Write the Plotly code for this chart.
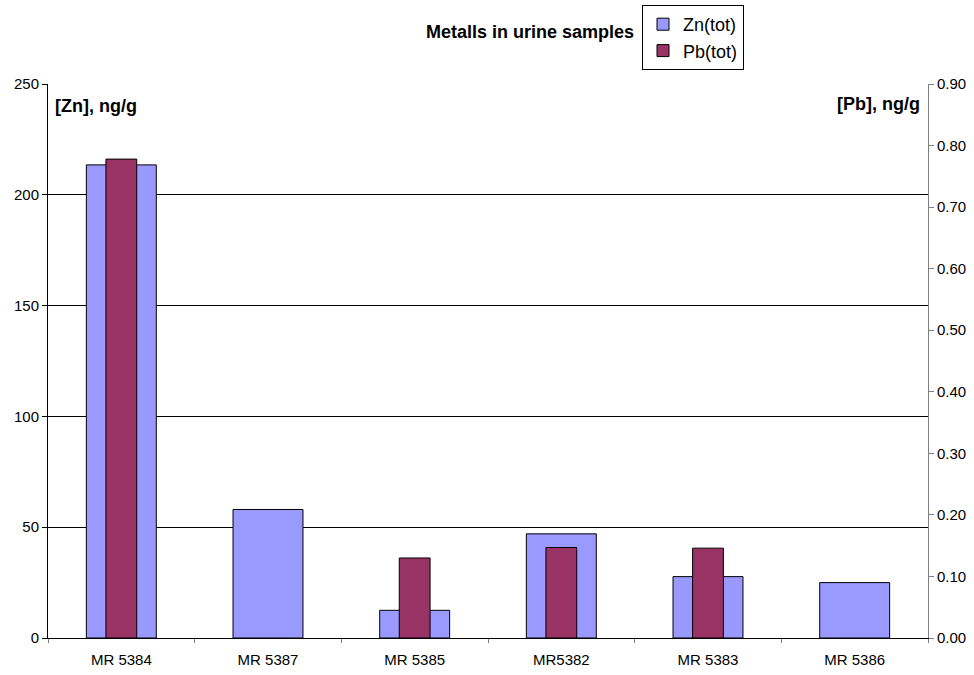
import plotly.graph_objects as go

categories = ["MR 5384", "MR 5387", "MR 5385", "MR5382", "MR 5383", "MR 5386"]
zn_values = [213.5, 58.0, 12.5, 47.0, 27.7, 25.0]
pb_values = [0.778, None, 0.13, 0.147, 0.146, None]
zn_ticks = [0, 50, 100, 150, 200, 250]
pb_ticks = [0.0, 0.1, 0.2, 0.3, 0.4, 0.5, 0.6, 0.7, 0.8, 0.9]

ZN_COLOR = "#9999FF"
PB_COLOR = "#993366"
FONT = "Liberation Sans, Arial, sans-serif"

fig = go.Figure()
fig.add_trace(go.Bar(
    x=categories, y=zn_values, name="Zn(tot)", width=0.477,
    marker=dict(color=ZN_COLOR, line=dict(color="black", width=1)),
    yaxis="y", legendgroup="zn",
))
fig.add_trace(go.Bar(
    x=categories, y=pb_values, name="Pb(tot)", width=0.21,
    marker=dict(color=PB_COLOR, line=dict(color="black", width=1)),
    yaxis="y2", legendgroup="pb",
))

fig.update_layout(
    width=974, height=675,
    margin=dict(l=48, r=46, t=84, b=37, autoexpand=False),
    paper_bgcolor="white", plot_bgcolor="white",
    barmode="overlay",
    font=dict(family=FONT, size=15, color="black"),
    showlegend=True,
    legend=dict(
        x=(642 - 48) / 880, y=1 + (84 - 5) / 554, xanchor="left", yanchor="top",
        bordercolor="black", borderwidth=1, bgcolor="white",
        font=dict(family=FONT, size=18, color="black"),
        traceorder="grouped", tracegroupgap=0,
        itemwidth=30,
    ),
    xaxis=dict(
        type="category", showline=True, linecolor="black", linewidth=1,
        ticks="outside", ticklen=4, tickcolor="gray", tickson="boundaries",
        showgrid=False, tickfont=dict(size=15), ticklabelstandoff=8,
        range=[-0.5, 5.5],
    ),
    yaxis=dict(
        range=[0, 250], tickvals=zn_ticks, showline=True, linecolor="black",
        linewidth=1, ticks="outside", ticklen=5, tickcolor="black",
        showgrid=True, gridcolor="black", gridwidth=1, zeroline=False,
        tickfont=dict(size=15),
    ),
    yaxis2=dict(
        range=[0, 0.9], tickvals=pb_ticks, tickformat=".2f", overlaying="y",
        side="right", showline=True, linecolor="gray", linewidth=1,
        ticks="outside", ticklen=5, tickcolor="gray", showgrid=False,
        zeroline=False, tickfont=dict(size=15),
    ),
    annotations=[
        dict(text="<b>Metalls in urine samples</b>", xref="paper", yref="paper",
             x=(636 - 48) / 880, y=1 + (84 - 32) / 554, xanchor="right", yanchor="middle",
             showarrow=False, font=dict(size=18, family=FONT)),
        dict(text="<b>[Zn], ng/g</b>", xref="paper", yref="paper",
             x=5 / 880, y=1 - (106 - 84) / 554, xanchor="left", yanchor="middle",
             showarrow=False, font=dict(size=18, family=FONT)),
        dict(text="<b>[Pb], ng/g</b>", xref="paper", yref="paper",
             x=1 - 6 / 880, y=1 - (104 - 84) / 554, xanchor="right", yanchor="middle",
             showarrow=False, font=dict(size=18, family=FONT)),
    ],
)

fig.write_html("out.html", config={"displayModeBar": False},
               post_script="document.body.style.margin='0';")
